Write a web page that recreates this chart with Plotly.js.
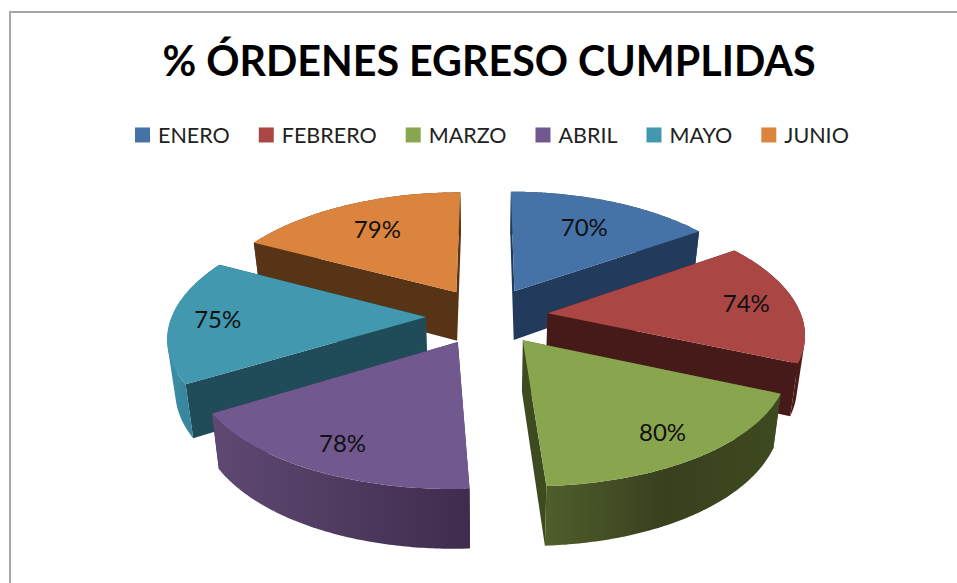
<!DOCTYPE html>
<html><head><meta charset="utf-8">
<script src="https://cdn.plot.ly/plotly-3.0.1.min.js"></script>
<style>html,body{margin:0;padding:0;background:#fff;overflow:hidden}#chart{width:957px;height:583px}</style>
</head><body><div id="chart"></div>
<script>
var titulo = '% ÓRDENES EGRESO CUMPLIDAS';
var meses = ['ENERO','FEBRERO','MARZO','ABRIL','MAYO','JUNIO'];
var valores = [70,74,80,78,75,79];
var colores = ['#4572a7','#aa4643','#89a54e','#71588f','#4198af','#db843d'];
var paredes = ['#223a5c','#461a18','#3e4a20','#3f2c4d','#204b58','#583416'];
var bordes = [['#223a5c','#223a5c'],['#551f1c','#4a1a18'],['#505e2c','#38401e','#3e4a20'],['#5f4973','#3f2c4d'],['#3e8fa8','#2c7389'],['#583416','#583416']];
var ordenPintado = [0,5,1,4,2,3];

// oblique view of the pie (tilt + perspective + extrusion)
var VIEW = {x0:487,y0:316,ax:254,ay:119.3,kx:0.15,ky:0.135,depth:50,shrink:0.975};
function proj(u,v){var wy=1/(1-VIEW.ky*v);return {x:VIEW.x0+VIEW.ax*u/(1-VIEW.kx*v),y:VIEW.y0+VIEW.ay*wy*v,w:wy};}
function low(p){return {x:VIEW.x0+(p.x-VIEW.x0)*VIEW.shrink,y:p.y+VIEW.depth*p.w};}
function poly(a){return 'M'+a.map(function(p){return p.x.toFixed(2)+','+p.y.toFixed(2);}).join('L')+'Z';}
function quad(a,b){
  var q=[a,b,low(b),low(a)],s=0;
  for(var i=0;i<4;i++){var n=q[(i+1)%4];s+=q[i].x*n.y-n.x*q[i].y;}
  if(s<0)q.reverse();
  return poly(q);
}
var NS='http://www.w3.org/2000/svg';
function add(parent,before,d,fill){var p=document.createElementNS(NS,'path');p.setAttribute('d',d);p.setAttribute('style','fill:'+fill+';stroke:none');parent.insertBefore(p,before);return p;}

var data=[{type:'pie',labels:meses,values:valores,sort:false,direction:'clockwise',rotation:0,pull:0.24,
  marker:{colors:colores,line:{width:0}},textinfo:'value',texttemplate:'%{value}%',textposition:'inside',
  insidetextorientation:'horizontal',insidetextfont:{family:'Lato, sans-serif',size:24,color:'#111'},hoverinfo:'none'}];
var layout={width:957,height:583,margin:{l:0,r:0,t:0,b:0},paper_bgcolor:'#fff',
  title:{text:'<b>'+titulo+'</b>',font:{family:'Lato, sans-serif',size:41.2,color:'#000'},x:489/957,xanchor:'center',y:1-62/583,yanchor:'middle'},
  legend:{orientation:'h',x:490/957,xanchor:'center',y:1-135/583,yanchor:'middle',font:{family:'Lato, sans-serif',size:21.5,color:'#222'},itemclick:false},
  shapes:[{type:'rect',xref:'paper',yref:'paper',x0:10/957,x1:1.01,y0:-0.01,y1:1-12/583,line:{color:'#a6a6a6',width:2},layer:'below'}]};
var LEG={left:135,size:15,gap:8,after:29};

Plotly.newPlot('chart',data,layout,{displayModeBar:false,staticPlot:true}).then(function(gd){
  var cd=gd.calcdata[0],cx=cd[0].cx,cy=cd[0].cy,r=cd[0].r;
  var svg=gd.querySelector('svg.main-svg');
  var defs=svg.querySelector('defs')||svg.insertBefore(document.createElementNS(NS,'defs'),svg.firstChild);
  var slices=[].slice.call(gd.querySelectorAll('.pielayer g.slice'));
  var parent=slices[0].parentNode;
  slices.forEach(function(g,i){
    var surf=g.querySelector('path.surface'),L=surf.getTotalLength(),pts=[],n=96,j;
    var toN=function(q){return {u:(q.x-cx)/r,v:(q.y-cy)/r};};
    var ap=toN(surf.getPointAtLength(0));
    for(j=0;j<=n;j++){pts.push(toN(surf.getPointAtLength(r+(L-2*r)*j/n)));}
    var A=proj(ap.u,ap.v),P=pts.map(function(q){return proj(q.u,q.v);});
    surf.setAttribute('d',poly([A].concat(P)));
    var grad=document.createElementNS(NS,'linearGradient');grad.setAttribute('id','wall'+i);
    bordes[i].forEach(function(c,k,arr){var s=document.createElementNS(NS,'stop');s.setAttribute('offset',k/(arr.length-1));s.setAttribute('stop-color',c);grad.appendChild(s);});
    defs.appendChild(grad);
    add(g,surf,quad(A,P[0])+quad(A,P[n]),paredes[i]);
    var outer=[];for(j=0;j<n;j++)outer.push(quad(P[j],P[j+1]));
    add(g,surf,outer.join(''),'url(#wall'+i+')');
    var m=pts[n>>1],du=m.u-ap.u,dv=m.v-ap.v;
    var f=dv<0?0.815+0.143*dv:0.815;
    var T=proj(ap.u+f*du,ap.v+f*dv),tx=g.querySelector('g.slicetext text');
    if(tx)tx.setAttribute('transform','translate('+T.x.toFixed(1)+','+(T.y+8).toFixed(1)+')');
  });
  ordenPintado.forEach(function(i){parent.appendChild(slices[i]);});
  // legend spacing
  var leg=gd.querySelector('g.legend');
  if(leg){
    var ly=/translate\([^,]+,\s*([-\d.]+)/.exec(leg.getAttribute('transform'));
    leg.setAttribute('transform','translate(0,'+(ly?ly[1]:0)+')');
    var sb=leg.querySelector('.scrollbox');if(sb)sb.removeAttribute('clip-path');
    var bg=leg.querySelector('rect.bg');if(bg)bg.style.display='none';
    var X=LEG.left,h=LEG.size/2;
    [].forEach.call(leg.querySelectorAll('g.traces'),function(t){
      var ty=/translate\([^,]+,\s*([-\d.]+)/.exec(t.getAttribute('transform'));
      t.setAttribute('transform','translate('+X+','+(ty?ty[1]:0)+')');
      var sym=t.querySelector('.legendpie');
      if(sym){sym.setAttribute('d','M'+h+','+h+'V'+(-h)+'H'+(-h)+'V'+h+'Z');sym.setAttribute('transform','translate('+h+',0)');}
      var tx=t.querySelector('text.legendtext');tx.setAttribute('x',LEG.size+LEG.gap);
      X+=LEG.size+LEG.gap+tx.getComputedTextLength()+LEG.after;
    });
  }
});
</script></body></html>
